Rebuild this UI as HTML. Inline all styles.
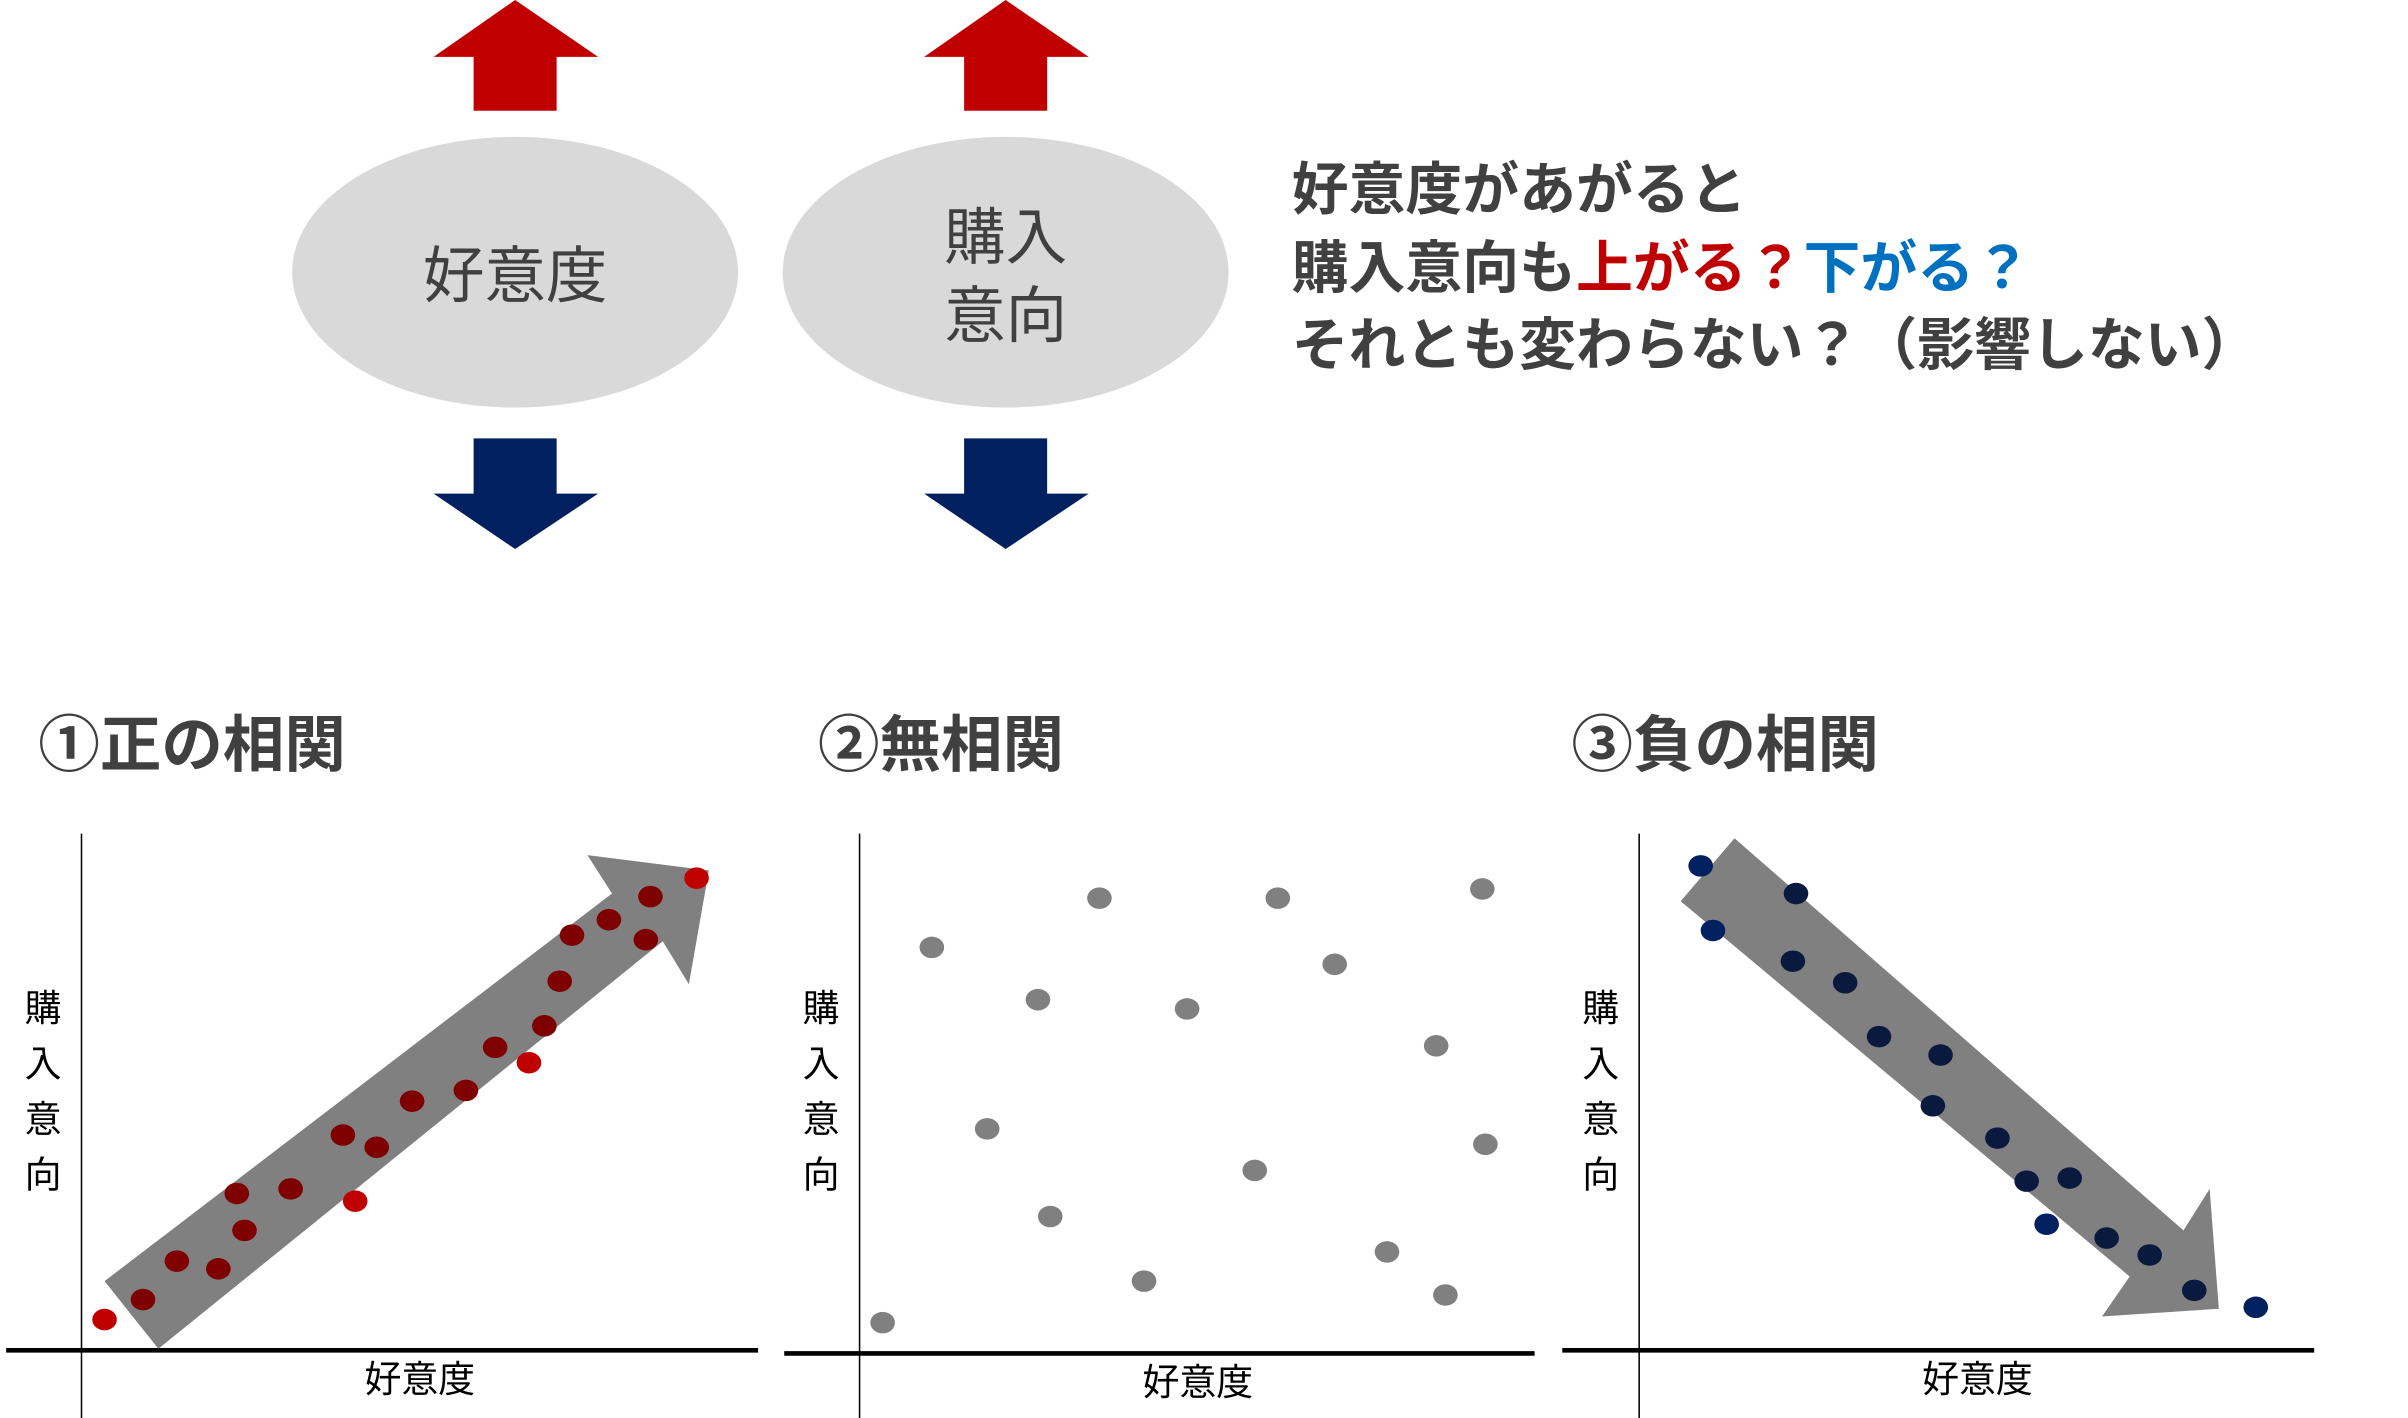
<!DOCTYPE html>
<html><head><meta charset="utf-8"><style>
html,body{margin:0;padding:0;background:#fff;overflow:hidden}
#w{width:2408px;height:1418px;position:relative;overflow:hidden}
svg{position:absolute;left:0;top:0}
text{font-family:"Liberation Sans","Noto Sans CJK JP",sans-serif;fill:#404040}
</style></head><body><div id="w">
<svg width="2408" height="1418" viewBox="0 0 1566 922" preserveAspectRatio="none">
<polygon points="335,0 389,37 362,37 362,72 308,72 308,37 282,37" fill="#C00000"/>
<polygon points="654,0 708,37 681,37 681,72 627,72 627,37 601,37" fill="#C00000"/>
<ellipse cx="335" cy="177" rx="145" ry="88" fill="#D9D9D9"/>
<ellipse cx="654" cy="177" rx="145" ry="88" fill="#D9D9D9"/>
<text x="335" y="193" font-size="40" text-anchor="middle">好意度</text>
<text x="654" y="168" font-size="40" text-anchor="middle">購入</text>
<text x="654" y="219" font-size="40" text-anchor="middle">意向</text>
<polygon points="308,285 362,285 362,321 389,321 335,357 282,321 308,321" fill="#002060"/>
<polygon points="627,285 681,285 681,321 708,321 654,357 601,321 627,321" fill="#002060"/>
<g font-size="37" font-weight="bold">
<text x="840" y="136">好意度があがると</text>
<text x="840" y="187">購入意向も<tspan fill="#C00000">上がる？</tspan><tspan fill="#0070C0">下がる？</tspan></text>
<text x="840" y="237">それとも変わらない？（影響しない）</text>
</g>
<g font-size="40" font-weight="bold">
<text x="25" y="498">①正の相関</text>
<text x="532" y="498">②無相関</text>
<text x="1022" y="498">③負の相関</text>
</g>
<g stroke="#000">
<line x1="53" y1="542" x2="53" y2="922" stroke-width="1"/>
<line x1="4" y1="878" x2="493" y2="878" stroke-width="3"/>
<line x1="559" y1="542" x2="559" y2="922" stroke-width="1"/>
<line x1="510" y1="880" x2="998" y2="880" stroke-width="3"/>
<line x1="1066" y1="542" x2="1066" y2="922" stroke-width="1"/>
<line x1="1016" y1="878" x2="1505" y2="878" stroke-width="3"/>
</g>
<g font-size="24" text-anchor="middle">
<text x="273" y="905" style="fill:#000">好意度</text>
<text x="779" y="907" style="fill:#000">好意度</text>
<text x="1286" y="905" style="fill:#000">好意度</text>
<text x="28" y="664" style="fill:#000">購</text><text x="28" y="700" style="fill:#000">入</text><text x="28" y="736" style="fill:#000">意</text><text x="28" y="772" style="fill:#000">向</text>
<text x="534" y="664" style="fill:#000">購</text><text x="534" y="700" style="fill:#000">入</text><text x="534" y="736" style="fill:#000">意</text><text x="534" y="772" style="fill:#000">向</text>
<text x="1041" y="664" style="fill:#000">購</text><text x="1041" y="700" style="fill:#000">入</text><text x="1041" y="736" style="fill:#000">意</text><text x="1041" y="772" style="fill:#000">向</text>
</g>
<polygon points="68,833 398,581 382,556 461,566 448,640 431,612 103,877" fill="#808080"/>
<polygon points="1128,545 1420,800 1437,773 1443,851 1367,856 1385,830 1093,586" fill="#808080"/>
<g fill="#7F0000">
<ellipse cx="93" cy="845" rx="8" ry="7"/><ellipse cx="115" cy="820" rx="8" ry="7"/><ellipse cx="142" cy="825" rx="8" ry="7"/>
<ellipse cx="159" cy="800" rx="8" ry="7"/><ellipse cx="154" cy="776" rx="8" ry="7"/><ellipse cx="189" cy="773" rx="8" ry="7"/>
<ellipse cx="223" cy="738" rx="8" ry="7"/><ellipse cx="245" cy="746" rx="8" ry="7"/><ellipse cx="268" cy="716" rx="8" ry="7"/>
<ellipse cx="303" cy="709" rx="8" ry="7"/><ellipse cx="322" cy="681" rx="8" ry="7"/><ellipse cx="354" cy="667" rx="8" ry="7"/>
<ellipse cx="364" cy="638" rx="8" ry="7"/><ellipse cx="372" cy="608" rx="8" ry="7"/><ellipse cx="396" cy="598" rx="8" ry="7"/>
<ellipse cx="423" cy="583" rx="8" ry="7"/><ellipse cx="420" cy="611" rx="8" ry="7"/>
</g>
<g fill="#C00000">
<ellipse cx="68" cy="858" rx="8" ry="7"/><ellipse cx="231" cy="781" rx="8" ry="7"/><ellipse cx="344" cy="691" rx="8" ry="7"/><ellipse cx="453" cy="571" rx="8" ry="7"/>
</g>
<g fill="#808080">
<ellipse cx="606" cy="616" rx="8" ry="7"/><ellipse cx="715" cy="584" rx="8" ry="7"/><ellipse cx="831" cy="584" rx="8" ry="7"/>
<ellipse cx="964" cy="578" rx="8" ry="7"/><ellipse cx="868" cy="627" rx="8" ry="7"/><ellipse cx="675" cy="650" rx="8" ry="7"/>
<ellipse cx="772" cy="656" rx="8" ry="7"/><ellipse cx="934" cy="680" rx="8" ry="7"/><ellipse cx="642" cy="734" rx="8" ry="7"/>
<ellipse cx="966" cy="744" rx="8" ry="7"/><ellipse cx="816" cy="761" rx="8" ry="7"/><ellipse cx="683" cy="791" rx="8" ry="7"/>
<ellipse cx="902" cy="814" rx="8" ry="7"/><ellipse cx="744" cy="833" rx="8" ry="7"/><ellipse cx="940" cy="842" rx="8" ry="7"/>
<ellipse cx="574" cy="860" rx="8" ry="7"/>
</g>
<g fill="#0A1A3F">
<ellipse cx="1168" cy="581" rx="8" ry="7"/><ellipse cx="1166" cy="625" rx="8" ry="7"/><ellipse cx="1200" cy="639" rx="8" ry="7"/>
<ellipse cx="1222" cy="674" rx="8" ry="7"/><ellipse cx="1262" cy="686" rx="8" ry="7"/><ellipse cx="1257" cy="719" rx="8" ry="7"/>
<ellipse cx="1299" cy="740" rx="8" ry="7"/><ellipse cx="1318" cy="768" rx="8" ry="7"/><ellipse cx="1346" cy="766" rx="8" ry="7"/>
<ellipse cx="1370" cy="805" rx="8" ry="7"/><ellipse cx="1398" cy="816" rx="8" ry="7"/><ellipse cx="1427" cy="839" rx="8" ry="7"/>
</g>
<g fill="#002060">
<ellipse cx="1106" cy="563" rx="8" ry="7"/><ellipse cx="1114" cy="605" rx="8" ry="7"/><ellipse cx="1331" cy="796" rx="8" ry="7"/><ellipse cx="1467" cy="850" rx="8" ry="7"/>
</g>
</svg>
</div></body></html>
